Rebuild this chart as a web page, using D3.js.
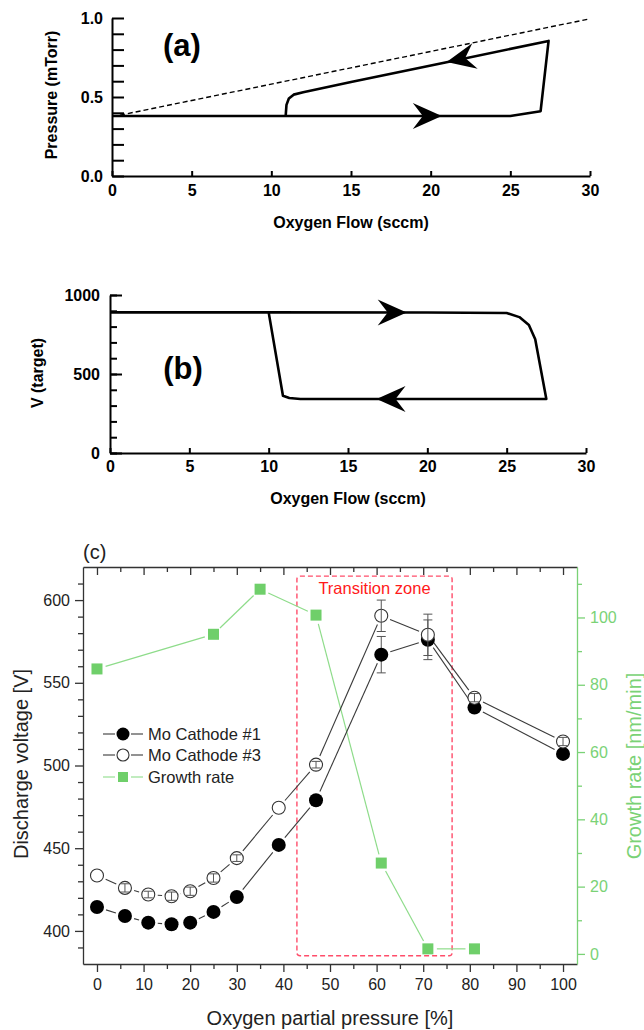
<!DOCTYPE html>
<html>
<head>
<meta charset="utf-8">
<script src="https://cdn.jsdelivr.net/npm/d3@7"></script>
<style>
  body { margin: 0; background: #fff; }
  svg { display: block; font-family: Arial, "Liberation Sans", sans-serif; }
</style>
</head>
<body>
<script>
// ---- panel (a): chamber pressure vs oxygen flow ----
const flowTicks = [0, 5, 10, 15, 20, 25, 30];
const pressureLabels = [0, 0.5, 1.0];
const pressureMinor = [0, 0.1, 0.2, 0.3, 0.4, 0.5, 0.6, 0.7, 0.8, 0.9, 1.0];
const loopAFlow = [0, 10, 20, 25, 26.9, 27.4, 21, 15, 12, 11.4, 11.1, 10.95, 10.9];
const loopAPressure = [0.38, 0.38, 0.38, 0.38, 0.41, 0.855, 0.72, 0.595, 0.53, 0.515, 0.49, 0.45, 0.38];
const dashFlow = [0.5, 30];
const dashPressure = [0.385, 0.995];
const arrowATip = [[20.7, 0.38], [21.0, 0.722]];
const arrowATail = [[17, 0.38], [25, 0.807]];

// ---- panel (b): target voltage vs oxygen flow ----
const voltLabels = [0, 500, 1000];
const voltMinor = [0, 100, 200, 300, 400, 500, 600, 700, 800, 900, 1000];
const loopBFlow = [0, 10, 20, 25.0, 25.8, 26.4, 26.8, 27.5, 20, 12, 11.3, 10.9, 10.0, 0];
const loopBVolt = [890, 890, 889, 886, 860, 810, 720, 342, 342, 342, 348, 362, 890, 890];
const arrowBTip = [[18.7, 890], [16.8, 342]];
const arrowBTail = [[15, 890], [20, 342]];

// ---- panel (c): discharge voltage and growth rate ----
const o2Pressure = [0, 6, 11, 16, 20, 25, 30, 39, 47, 61, 71, 81, 100];
const cathode1 = [414.5, 409, 405, 404, 405, 411.5, 420.5, 452, 479, 567, 576, 535, 507];
const cathode1Err = [1.5, 1.5, 1.5, 1.5, 1.5, 1.5, 1.5, 1.5, 1.5, 11, 12, 1.5, 1.5];
const cathode3 = [433.5, 426, 422, 421, 424, 432, 444, 474.5, 500.5, 590.5, 579, 541, 514.5];
const cathode3Err = [0, 2.5, 2, 2.5, 2.5, 2.5, 2, 0, 2, 9.5, 12.5, 2.5, 2.5];
const growthO2 = [0, 25, 35, 47, 61, 71, 81];
const growthRate = [84.7, 95, 108.4, 100.7, 27, 1.5, 1.5];
const o2Ticks = [0, 10, 20, 30, 40, 50, 60, 70, 80, 90, 100];
const o2Minor = [5, 15, 25, 35, 45, 55, 65, 75, 85, 95];
const dvTicks = [400, 450, 500, 550, 600];
const dvMinor = [390, 410, 420, 430, 440, 460, 470, 480, 490, 510, 520, 530, 540, 560, 570, 580, 590, 610];
const grTicks = [0, 20, 40, 60, 80, 100];
const grMinor = [10, 30, 50, 70, 90, 110];
const zoneO2 = [42.9, 76.2];
const zoneVolt = [385, 614.5];
const legendNames = ["Mo Cathode #1", "Mo Cathode #3", "Growth rate"];

const green = "#6fcf6a", greenLine = "#8edc8a", greenText = "#7ad276";

const svg = d3.select("body").append("svg")
  .attr("width", 644).attr("height", 1030);

// filled barbed arrowhead pointing from tail to tip
function arrowHead(g, x, y, tip, tail) {
  let ang = Math.atan2(y(tip[1]) - y(tail[1]), x(tip[0]) - x(tail[0])) * 180 / Math.PI;
  g.append("path")
    .attr("d", "M0,0 L-29,-13 L-19,0 L-29,13 Z")
    .attr("transform", `translate(${x(tip[0])},${y(tip[1])}) rotate(${ang})`)
    .attr("fill", "#000");
}

function styleBold(g) {
  g.selectAll("path, line").attr("stroke", "#000").attr("stroke-width", 2);
  g.selectAll("text").attr("font-size", 16).attr("font-weight", "bold").attr("fill", "#000");
}

// ===== panel (a) =====
let xA = d3.scaleLinear().domain([0, 30]).range([112, 590]);
let yA = d3.scaleLinear().domain([0, 1]).range([176, 18]);
let gA = svg.append("g");

gA.append("g").attr("transform", "translate(0,176)")
  .call(d3.axisBottom(xA).tickValues(flowTicks).tickSize(-5).tickSizeOuter(0).tickPadding(9))
  .call(styleBold);
gA.append("g").attr("transform", "translate(112,0)")
  .call(d3.axisLeft(yA).tickValues(pressureLabels).tickSize(0).tickPadding(9).tickFormat(d3.format(".1f")))
  .call(styleBold);
gA.append("g").attr("transform", "translate(112,0)")
  .call(d3.axisRight(yA).tickValues(pressureMinor).tickSize(12).tickFormat(""))
  .call(g => g.select(".domain").remove())
  .call(styleBold);

gA.append("path")
  .attr("d", d3.line()(dashFlow.map((f, i) => [xA(f), yA(dashPressure[i])])))
  .attr("fill", "none").attr("stroke", "#000").attr("stroke-width", 1.4)
  .attr("stroke-dasharray", "5,3");
gA.append("path")
  .attr("d", d3.line()(loopAFlow.map((f, i) => [xA(f), yA(loopAPressure[i])])))
  .attr("fill", "none").attr("stroke", "#000").attr("stroke-width", 2.6)
  .attr("stroke-linejoin", "round");
arrowATip.forEach((t, i) => arrowHead(gA, xA, yA, t, arrowATail[i]));

gA.append("text").attr("x", 182).attr("y", 56).attr("text-anchor", "middle")
  .attr("font-size", 31).attr("font-weight", "bold").text("(a)");
gA.append("text").attr("transform", "translate(57,95) rotate(-90)")
  .attr("text-anchor", "middle").attr("font-size", 16).attr("font-weight", "bold")
  .text("Pressure (mTorr)");
gA.append("text").attr("x", 351).attr("y", 228).attr("text-anchor", "middle")
  .attr("font-size", 16).attr("font-weight", "bold").text("Oxygen Flow (sccm)");

// ===== panel (b) =====
let xB = d3.scaleLinear().domain([0, 30]).range([110, 586]);
let yB = d3.scaleLinear().domain([0, 1000]).range([453, 295]);
let gB = svg.append("g");

gB.append("g").attr("transform", "translate(0,453)")
  .call(d3.axisBottom(xB).tickValues(flowTicks).tickSize(-5).tickSizeOuter(0).tickPadding(8))
  .call(styleBold);
gB.append("g").attr("transform", "translate(110,0)")
  .call(d3.axisLeft(yB).tickValues(voltLabels).tickSize(0).tickPadding(10).tickFormat(d3.format("d")))
  .call(styleBold);
gB.append("g").attr("transform", "translate(110,0)")
  .call(d3.axisRight(yB).tickValues(voltMinor).tickSize(7).tickFormat(""))
  .call(g => g.select(".domain").remove())
  .call(styleBold);
gB.append("g").attr("transform", "translate(110,0)")
  .call(d3.axisRight(yB).tickValues(voltLabels).tickSize(12).tickFormat(""))
  .call(g => g.select(".domain").remove())
  .call(styleBold);

gB.append("path")
  .attr("d", d3.line()(loopBFlow.map((f, i) => [xB(f), yB(loopBVolt[i])])))
  .attr("fill", "none").attr("stroke", "#000").attr("stroke-width", 2.6)
  .attr("stroke-linejoin", "round");
arrowBTip.forEach((t, i) => arrowHead(gB, xB, yB, t, arrowBTail[i]));

gB.append("text").attr("x", 183).attr("y", 379).attr("text-anchor", "middle")
  .attr("font-size", 31).attr("font-weight", "bold").text("(b)");
gB.append("text").attr("transform", "translate(43,373) rotate(-90)")
  .attr("text-anchor", "middle").attr("font-size", 16).attr("font-weight", "bold")
  .text("V (target)");
gB.append("text").attr("x", 348).attr("y", 504).attr("text-anchor", "middle")
  .attr("font-size", 16).attr("font-weight", "bold").text("Oxygen Flow (sccm)");

// ===== panel (c) =====
let xC = d3.scaleLinear().domain([-3, 103]).range([83, 577]);
let yC = d3.scaleLinear().domain([380, 620]).range([964, 567]);
let yG = d3.scaleLinear().domain([-3, 115]).range([964, 567]);
let gC = svg.append("g");

function styleC(color) {
  return g => {
    g.selectAll("path, line").attr("stroke", color).attr("stroke-width", 1.3);
    g.selectAll("text").attr("font-size", 16).attr("fill", color === "#333" ? "#222" : color)
      .attr("font-family", "Arial, 'Liberation Sans', sans-serif");
  };
}

// bottom
gC.append("g").attr("transform", "translate(0,964)")
  .call(d3.axisBottom(xC).tickValues(o2Ticks).tickSize(8).tickSizeOuter(0).tickPadding(7))
  .call(styleC("#333"));
gC.append("g").attr("transform", "translate(0,964)")
  .call(d3.axisBottom(xC).tickValues(o2Minor).tickSize(5).tickFormat(""))
  .call(g => g.select(".domain").remove()).call(styleC("#333"));
// top
gC.append("g").attr("transform", "translate(0,567)")
  .call(d3.axisTop(xC).tickValues(o2Ticks).tickSize(-8).tickSizeOuter(0).tickFormat(""))
  .call(styleC("#333"));
gC.append("g").attr("transform", "translate(0,567)")
  .call(d3.axisTop(xC).tickValues(o2Minor).tickSize(-5).tickFormat(""))
  .call(g => g.select(".domain").remove()).call(styleC("#333"));
// left
gC.append("g").attr("transform", "translate(83,0)")
  .call(d3.axisLeft(yC).tickValues(dvTicks).tickSize(8).tickSizeOuter(0).tickPadding(5))
  .call(styleC("#333"));
gC.append("g").attr("transform", "translate(83,0)")
  .call(d3.axisLeft(yC).tickValues(dvMinor).tickSize(5).tickFormat(""))
  .call(g => g.select(".domain").remove()).call(styleC("#333"));
// right (growth rate)
gC.append("g").attr("transform", "translate(577,0)")
  .call(d3.axisRight(yG).tickValues(grTicks).tickSize(8).tickSizeOuter(0).tickPadding(5))
  .call(styleC(greenText));
gC.append("g").attr("transform", "translate(577,0)")
  .call(d3.axisRight(yG).tickValues(grMinor).tickSize(5).tickFormat(""))
  .call(g => g.select(".domain").remove()).call(styleC(greenText));

// transition zone box
gC.append("rect")
  .attr("x", xC(zoneO2[0])).attr("y", yC(zoneVolt[1]))
  .attr("width", xC(zoneO2[1]) - xC(zoneO2[0]))
  .attr("height", yC(zoneVolt[0]) - yC(zoneVolt[1]))
  .attr("rx", 3).attr("fill", "none").attr("stroke", "#ff4d6a")
  .attr("stroke-width", 1.4).attr("stroke-dasharray", "5,3");
gC.append("text")
  .attr("x", (xC(zoneO2[0]) + xC(zoneO2[1])) / 2).attr("y", 594)
  .attr("text-anchor", "middle").attr("font-size", 16.5).attr("fill", "#ff1a1a")
  .text("Transition zone");

// connecting lines with a small gap around the symbols
function gapLines(g, pts, gap, color, width) {
  for (let i = 0; i < pts.length - 1; i++) {
    let [x1, y1] = pts[i], [x2, y2] = pts[i + 1];
    let dx = x2 - x1, dy = y2 - y1, len = Math.hypot(dx, dy);
    if (len <= 2 * gap) continue;
    let ux = dx / len, uy = dy / len;
    g.append("line")
      .attr("x1", x1 + ux * gap).attr("y1", y1 + uy * gap)
      .attr("x2", x2 - ux * gap).attr("y2", y2 - uy * gap)
      .attr("stroke", color).attr("stroke-width", width);
  }
}

let pts1 = o2Pressure.map((p, i) => [xC(p), yC(cathode1[i])]);
let pts3 = o2Pressure.map((p, i) => [xC(p), yC(cathode3[i])]);
let ptsG = growthO2.map((p, i) => [xC(p), yG(growthRate[i])]);

gapLines(gC, ptsG, 9, greenLine, 1.2);
gapLines(gC, pts1, 9.5, "#3a3a3a", 1.1);
gapLines(gC, pts3, 9.5, "#3a3a3a", 1.1);

function errorBars(g, vals, errs) {
  o2Pressure.forEach((p, i) => {
    if (!errs[i]) return;
    let cx = xC(p), top = yC(vals[i] + errs[i]), bot = yC(vals[i] - errs[i]);
    g.append("line").attr("x1", cx).attr("x2", cx).attr("y1", top).attr("y2", bot)
      .attr("stroke", "#555").attr("stroke-width", 1);
    [top, bot].forEach(yy => g.append("line")
      .attr("x1", cx - 4.5).attr("x2", cx + 4.5).attr("y1", yy).attr("y2", yy)
      .attr("stroke", "#555").attr("stroke-width", 1));
  });
}

errorBars(gC, cathode1, cathode1Err);
gC.selectAll(".m1").data(pts1).join("circle")
  .attr("cx", d => d[0]).attr("cy", d => d[1]).attr("r", 7).attr("fill", "#000");

gC.selectAll(".m3").data(pts3).join("circle")
  .attr("cx", d => d[0]).attr("cy", d => d[1]).attr("r", 6.5)
  .attr("fill", "#fff").attr("stroke", "#333").attr("stroke-width", 1.1);
errorBars(gC, cathode3, cathode3Err);

gC.selectAll(".mg").data(ptsG).join("rect")
  .attr("x", d => d[0] - 5.5).attr("y", d => d[1] - 5.5)
  .attr("width", 11).attr("height", 11).attr("fill", green);

// legend
let legRows = [734, 755, 777];
legRows.forEach((ly, i) => {
  let col = i < 2 ? "#3a3a3a" : greenLine;
  gC.append("line").attr("x1", 103).attr("x2", 115).attr("y1", ly).attr("y2", ly)
    .attr("stroke", col).attr("stroke-width", 1.1);
  gC.append("line").attr("x1", 131).attr("x2", 143).attr("y1", ly).attr("y2", ly)
    .attr("stroke", col).attr("stroke-width", 1.1);
  if (i === 0) {
    gC.append("circle").attr("cx", 123).attr("cy", ly).attr("r", 6.5).attr("fill", "#000");
  } else if (i === 1) {
    gC.append("circle").attr("cx", 123).attr("cy", ly).attr("r", 6)
      .attr("fill", "#fff").attr("stroke", "#333").attr("stroke-width", 1.1);
  } else {
    gC.append("rect").attr("x", 118).attr("y", ly - 5).attr("width", 10).attr("height", 10)
      .attr("fill", green);
  }
  gC.append("text").attr("x", 148).attr("y", ly + 6)
    .attr("font-size", 16.5).attr("fill", "#222").text(legendNames[i]);
});

// titles
gC.append("text").attr("x", 83).attr("y", 559).attr("font-size", 20).attr("fill", "#222").text("(c)");
gC.append("text").attr("transform", "translate(28,764) rotate(-90)")
  .attr("text-anchor", "middle").attr("font-size", 20).attr("fill", "#222")
  .text("Discharge voltage [V]");
gC.append("text").attr("transform", "translate(641,766) rotate(-90)")
  .attr("text-anchor", "middle").attr("font-size", 20).attr("fill", greenText)
  .text("Growth rate [nm/min]");
gC.append("text").attr("x", 330).attr("y", 1025).attr("text-anchor", "middle")
  .attr("font-size", 20).attr("fill", "#222").text("Oxygen partial pressure [%]");
</script>
</body>
</html>
